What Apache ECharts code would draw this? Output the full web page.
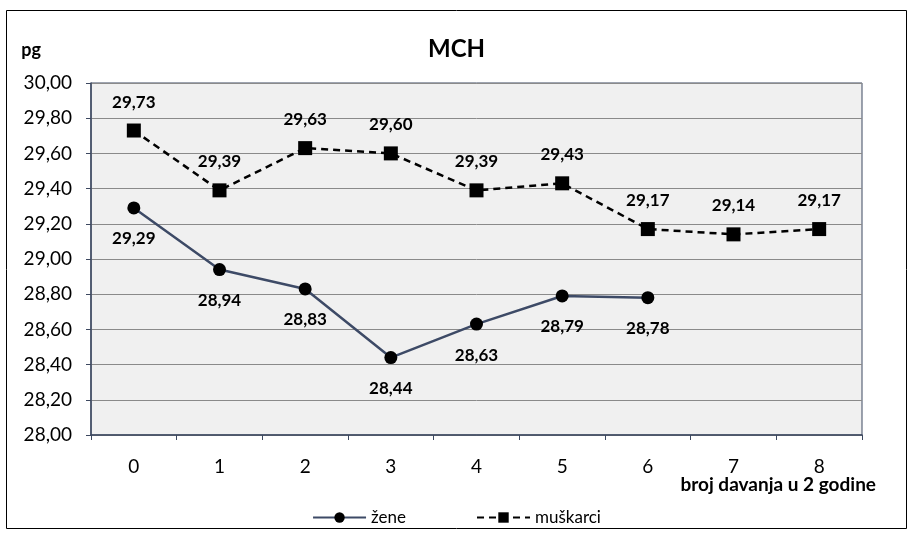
<!DOCTYPE html>
<html>
<head>
<meta charset="utf-8">
<script src="https://cdn.jsdelivr.net/npm/echarts@6/dist/echarts.min.js"></script>
<style>
  html, body { margin: 0; padding: 0; background: #fff; }
  #main { width: 913px; height: 539px; }
</style>
</head>
<body>
<div id="main"></div>
<script>
var categories = ['0', '1', '2', '3', '4', '5', '6', '7', '8'];
var zene = [29.29, 28.94, 28.83, 28.44, 28.63, 28.79, 28.78];
var muskarci = [29.73, 29.39, 29.63, 29.60, 29.39, 29.43, 29.17, 29.14, 29.17];
var xTitle = 'broj davanja u 2 godine';

var font = 'Lato, "Open Sans", sans-serif';
function fmt(v) { return Number(v).toFixed(2).replace('.', ','); }

var chart = echarts.init(document.getElementById('main'));
var option = {
  animation: false,
  textStyle: { fontFamily: font },
  title: {
    text: 'MCH',
    left: 'center',
    top: 32,
    textStyle: { fontFamily: font, fontSize: 24, fontWeight: 'bold', color: '#000' }
  },
  graphic: [
    {
      type: 'rect',
      shape: { x: 6.5, y: 10.5, width: 900, height: 518 },
      style: { fill: 'none', stroke: '#000', lineWidth: 1 },
      silent: true
    },
    {
      type: 'text',
      right: 37,
      top: 475,
      style: {
        text: xTitle,
        font: 'bold 19px ' + font,
        fill: '#000'
      },
      silent: true
    }
  ],
  legend: {
    bottom: 8,
    left: 'center',
    itemWidth: 53,
    itemHeight: 13,
    itemGap: 70,
    textStyle: { fontFamily: font, fontSize: 17, color: '#000' },
    data: ['žene', 'muškarci']
  },
  grid: {
    left: 91, right: 51, top: 83, bottom: 104,
    outerBoundsMode: 'none',
    containLabel: false,
    show: true,
    backgroundColor: '#f0f0f0',
    borderColor: '#3c4860',
    borderWidth: 1
  },
  xAxis: {
    type: 'category',
    data: categories,
    boundaryGap: true,
    axisLine: { lineStyle: { color: '#3c4860', width: 1.5 } },
    axisTick: { show: true, length: 5, alignWithLabel: false, lineStyle: { color: '#3c4860' } },
    axisLabel: { fontFamily: font, fontSize: 19, color: '#000', margin: 22 },
    splitLine: { show: false }
  },
  yAxis: {
    type: 'value',
    min: 28,
    max: 30,
    interval: 0.2,
    name: 'pg',
    nameLocation: 'end',
    nameGap: 24,
    nameTextStyle: {
      fontFamily: font, fontSize: 18, fontWeight: 'bold', color: '#000',
      align: 'right', padding: [0, 50, 0, 0]
    },
    axisLine: { show: true, lineStyle: { color: '#3c4860', width: 1.5 } },
    axisTick: { show: true, length: 5, lineStyle: { color: '#3c4860' } },
    axisLabel: { fontFamily: font, fontSize: 19, color: '#000', margin: 19, formatter: fmt },
    splitLine: { show: true, lineStyle: { color: '#8a8a8a', width: 1 } }
  },
  series: [
    {
      name: 'žene',
      type: 'line',
      data: zene,
      symbol: 'circle',
      symbolSize: 13,
      itemStyle: { color: '#000' },
      lineStyle: { color: '#3d4a66', width: 2.5 },
      label: {
        show: true,
        position: 'bottom',
        distance: 16,
        fontFamily: font, fontSize: 17, fontWeight: 'bold', color: '#000',
        formatter: function (p) { return fmt(p.value); }
      }
    },
    {
      name: 'muškarci',
      type: 'line',
      data: muskarci,
      symbol: 'rect',
      symbolSize: 14,
      itemStyle: { color: '#000' },
      lineStyle: { color: '#000', width: 2.5, type: [7, 5] },
      label: {
        show: true,
        position: 'top',
        distance: 13,
        fontFamily: font, fontSize: 17, fontWeight: 'bold', color: '#000',
        formatter: function (p) { return fmt(p.value); }
      }
    }
  ]
};
chart.setOption(option);
</script>
</body>
</html>
